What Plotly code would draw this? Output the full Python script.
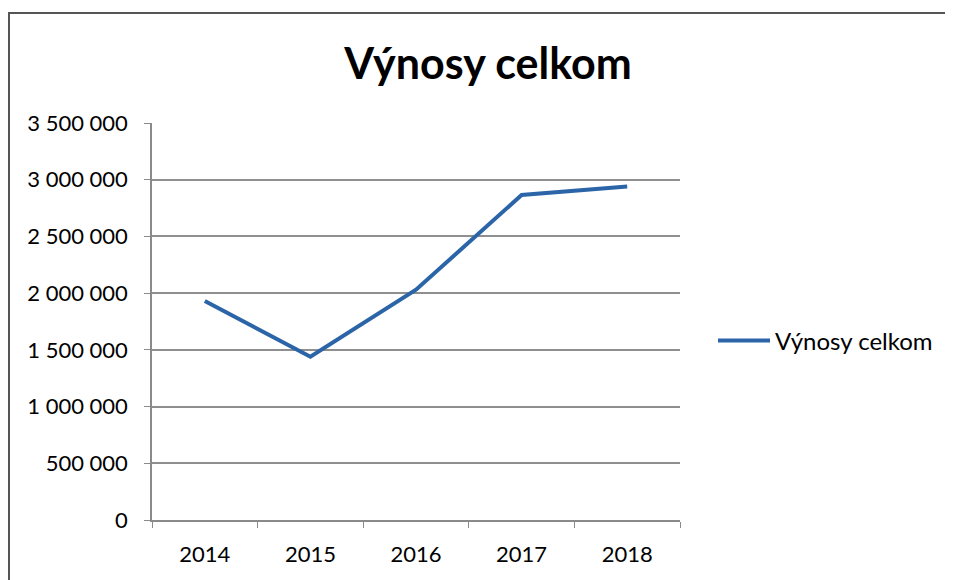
import plotly.graph_objects as go

years = ["2014", "2015", "2016", "2017", "2018"]
vynosy = [1930000, 1440000, 2030000, 2865000, 2940000]
y_ticks = [0, 500000, 1000000, 1500000, 2000000, 2500000, 3000000, 3500000]
series_name = "Výnosy celkom"
title_text = "Výnosy celkom"

OFF = 8  # page body margin
W, H = 953 - OFF, 580 - OFF
L, R, T, B = 152 - OFF, 680 - OFF, 123 - OFF, 520 - OFF

fig = go.Figure()
fig.add_trace(go.Scatter(
    x=years, y=vynosy, mode="lines", name=series_name,
    line=dict(color="#2B65A8", width=4),
))

pw = R - L
ph = B - T
fig.add_shape(type="rect", xref="paper", yref="paper",
              x0=(1 - L) / pw, x1=(W + 3 - L) / pw,
              y0=(B - (H + 3)) / ph, y1=(B - 5) / ph,
              line=dict(color="#555555", width=2), fillcolor="rgba(0,0,0,0)", layer="below")

fig.update_layout(
    width=W, height=H,
    margin=dict(l=L, r=W - R, t=T, b=H - B, autoexpand=False),
    paper_bgcolor="white", plot_bgcolor="white",
    separators=", ",
    font=dict(family="Lato, 'Open Sans', sans-serif", size=22, color="#000000"),
    title=dict(text="<b>" + title_text + "</b>", x=(488 - OFF) / W, xanchor="center",
               y=1 - (64 - OFF) / H, yanchor="middle", yref="container",
               font=dict(size=43, color="#000000")),
    showlegend=True,
    legend=dict(x=(713 - OFF - L) / pw, y=(B - (341 - OFF)) / ph, xanchor="left", yanchor="middle",
                bgcolor="rgba(0,0,0,0)", font=dict(size=24), itemwidth=52),
    xaxis=dict(type="category", showline=True, linecolor="#8a8a8a", linewidth=1.5,
               ticks="outside", tickson="boundaries", ticklen=6, tickcolor="#8a8a8a",
               showgrid=False, ticklabelstandoff=14, range=[-0.5, 4.5]),
    yaxis=dict(range=[0, 3500000], tickvals=y_ticks, tickformat=",d",
               showline=True, linecolor="#8a8a8a", linewidth=1.5,
               ticks="outside", ticklen=6, tickcolor="#8a8a8a",
               showgrid=True, gridcolor="#8f8f8f", gridwidth=1.5,
               zeroline=False, ticklabelstandoff=12),
)

fig.write_html("out.html")
